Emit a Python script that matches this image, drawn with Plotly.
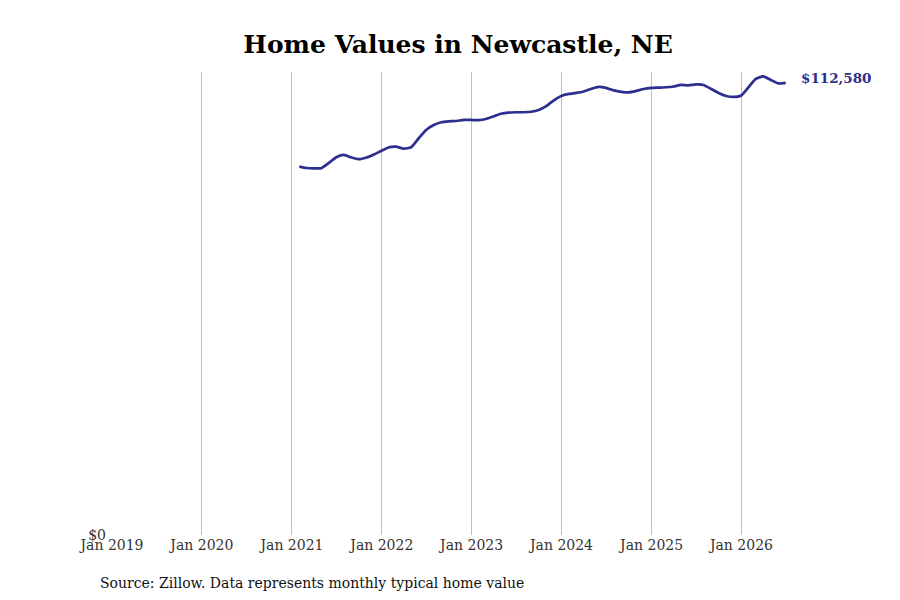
import pandas as pd
import plotly.graph_objects as go

# Monthly typical home value (Zillow month-end dates), Jan 2021 - Jun 2026
months = pd.date_range("2021-01-31", "2026-06-30", freq="ME")
values = [
    91730, 91400, 91300, 91330, 92650, 94070, 94650, 94000, 93580, 94000, 94770,
    95700, 96560, 96700, 96200, 96560, 98800, 100870, 102100, 102800, 103000, 103100, 103360,
    103360, 103300, 103600, 104240, 104900, 105200, 105280, 105280, 105400, 105850, 106800, 108200,
    109340, 109840, 110090, 110460, 111080, 111580, 111330, 110710, 110340, 110210, 110590, 111080,
    111330, 111410, 111500, 111700, 112080, 111960, 112200, 112080, 111080, 110090, 109340, 109090,
    109460, 111580, 113570, 114200, 113320, 112450, 112580,
]
last_label = "$112,580"

line_color = "#2d2f8e"
font = "DejaVu Serif"

fig = go.Figure()
fig.add_trace(go.Scatter(x=months, y=values, mode="lines",
                         line=dict(color=line_color, width=2.7, shape="spline", smoothing=0.5),
                         hoverinfo="skip"))

fig.add_annotation(x=months[-1], y=values[-1], text="<b>" + last_label + "</b>",
                   xanchor="left", yanchor="middle", xshift=13, yshift=5, showarrow=False,
                   font=dict(family=font, size=13.5, color=line_color))

fig.add_annotation(x=0, xref="paper", y=-0.104, yref="paper", xanchor="left", xshift=-14,
                   yanchor="middle", showarrow=False,
                   text="Source: Zillow. Data represents monthly typical home value",
                   font=dict(family=font, size=14, color="#111111"))

fig.update_layout(
    width=900, height=600,
    plot_bgcolor="white", paper_bgcolor="white",
    margin=dict(l=104, r=122, t=64, b=73),
    showlegend=False,
    font=dict(family=font, color="#333333"),
    title=dict(text="<b>Home Values in Newcastle, NE</b>", x=0.5, xanchor="center",
               y=0.94, yanchor="middle", font=dict(family=font, size=25, color="black")),
    xaxis=dict(range=["2019-01-01", "2026-07-01"], dtick="M12", tick0="2019-01-01",
               tickformat="%b %Y", showgrid=True, gridcolor="#bdbdbd", gridwidth=1,
               showline=False, zeroline=False, ticks="", tickfont=dict(size=14, color="#333333")),
    yaxis=dict(range=[0, 115300], tickvals=[0], ticktext=["$0"], showgrid=False,
               zeroline=False, showline=False, ticks="", ticklabelstandoff=5,
               tickfont=dict(size=14, color="#333333")),
)

fig.write_html("out.html")
